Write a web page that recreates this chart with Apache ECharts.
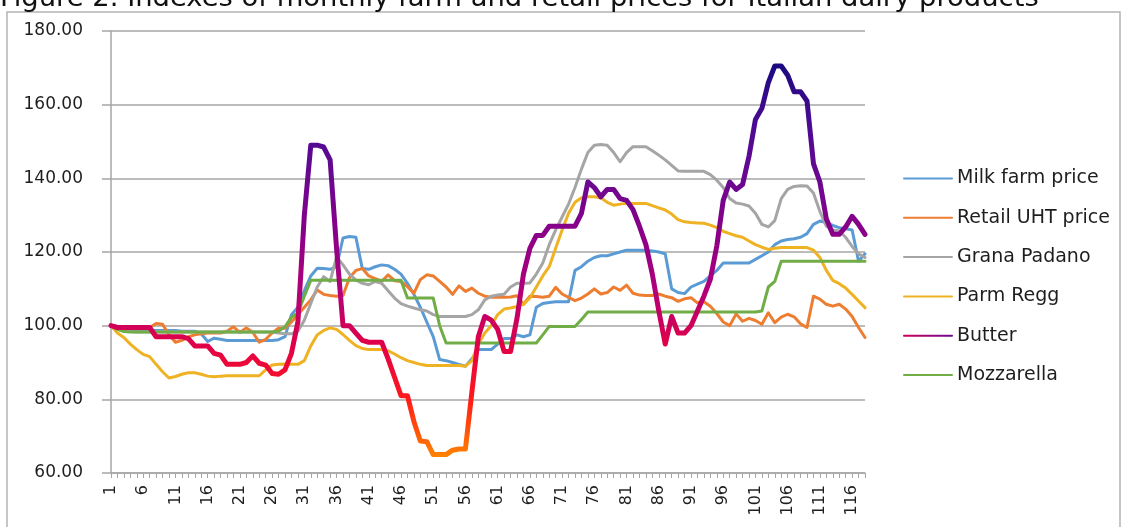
<!DOCTYPE html>
<html>
<head>
<meta charset="utf-8">
<script src="https://cdn.jsdelivr.net/npm/echarts@6/dist/echarts.min.js"></script>
<style>
html,body{margin:0;padding:0;background:#fff;}
#chart{width:1122px;height:527px;}
</style>
</head>
<body>
<div id="chart"></div>
<script>
// months 1..118
var months = [];
for (var m = 1; m <= 118; m++) { months.push(String(m)); }

var yTicks = [60, 80, 100, 120, 140, 160, 180];

var seriesNames = ['Milk farm price', 'Retail UHT price', 'Grana Padano', 'Parm Regg', 'Butter', 'Mozzarella'];

var milkFarm = [
	100, 99, 98.7, 98.7, 98.7, 98.7, 98.7, 98.7, 98.7, 98.7,
	98.7, 98.5, 98.5, 98.5, 97.8, 95.7, 96.6, 96.3, 96, 96,
	96, 96, 96, 96, 96, 96, 96.2, 97, 103, 105,
	109.5, 113.5, 115.6, 115.5, 115.3, 116, 123.8, 124.2, 124, 115.5,
	115.3, 116, 116.5, 116.3, 115.3, 114, 111.5, 108.5, 105, 101,
	97, 90.8, 90.5, 90, 89.5, 89, 91, 93.5, 93.5, 93.5,
	95, 96.5, 96.5, 97.5, 97, 97.5, 105, 106, 106.3, 106.5,
	106.5, 106.5, 115, 116, 117.5, 118.5, 119, 119, 119.5, 120,
	120.5, 120.5, 120.5, 120.5, 120.3, 120, 119.5, 110, 109, 108.7,
	110.5, 111.3, 112, 113.5, 115, 117, 117, 117, 117, 117,
	118, 119, 120, 122, 123, 123.4, 123.6, 124, 125, 127.5,
	128.4, 128, 127.2, 126.6, 126.3, 126, 117.5, 119.5
];

var retailUHT = [
	100, 99.5, 99.5, 99.5, 99.5, 99.5, 99.5, 100.6, 100.4, 97.5,
	95.5, 96, 97, 97.5, 97.8, 98, 98, 98, 98.5, 99.7,
	98.2, 99.4, 98.2, 95.5, 96.3, 98, 99.3, 99.3, 101, 103,
	105, 107, 109.7, 108.5, 108.2, 108, 108.2, 113, 115, 115.5,
	113.5, 112.8, 112, 113.8, 112.2, 112, 110.6, 108.8, 112.5, 113.8,
	113.5, 112, 110.5, 108.5, 110.8, 109.3, 110.2, 108.8, 108, 107.7,
	107.7, 107.7, 107.8, 108.1, 105.8, 108, 107.9, 107.7, 108, 110.4,
	108.6, 107.7, 106.8, 107.5, 108.6, 110, 108.6, 109, 110.5, 109.6,
	111, 108.8, 108.3, 108.2, 108.2, 108.6, 108, 107.6, 106.6, 107.3,
	107.6, 106.2, 106.5, 105.3, 103.3, 101, 100, 103.2, 101.2, 102,
	101.4, 100.4, 103.5, 100.8, 102.3, 103.1, 102.4, 100.5, 99.5, 108,
	107.2, 105.8, 105.3, 105.8, 104.5, 102.5, 99.5, 96.8
];

var granaPadano = [
	100, 99, 98.6, 98.4, 98.3, 98.3, 98.3, 98.3, 98.3, 98.3,
	98.3, 98.3, 98.3, 98.3, 98.3, 98.3, 98.3, 98.3, 98.3, 98.3,
	98.3, 98.3, 98.3, 98.3, 98.3, 98.3, 98, 97.8, 97.8, 98.5,
	101.5, 106, 110.5, 113.3, 112, 118.7, 116.5, 114, 112.4, 111.5,
	111.1, 112, 111.5, 109.5, 107.5, 106, 105.3, 104.8, 104.3, 104,
	103, 102.5, 102.5, 102.5, 102.5, 102.5, 103, 104.3, 107, 108,
	108.3, 108.5, 110.5, 111.5, 111.5, 111.6, 114, 117, 122, 126,
	129.5, 133, 137.5, 142.5, 147, 149, 149.2, 149, 147, 144.5,
	147, 148.6, 148.6, 148.6, 147.5, 146.3, 145, 143.5, 142, 141.9,
	141.9, 141.9, 141.9, 141, 139.5, 137.5, 134.5, 133.3, 133, 132.5,
	130.5, 127.5, 126.8, 128.5, 134.5, 137, 137.8, 138, 137.9, 136,
	131, 127, 126, 125.7, 124, 121.5, 119.5, 118.5
];

var parmRegg = [
	100, 98, 96.8, 95, 93.5, 92.2, 91.6, 89.5, 87.5, 85.8,
	86.2, 86.8, 87.2, 87.2, 86.8, 86.3, 86.1, 86.3, 86.4, 86.4,
	86.4, 86.4, 86.4, 86.4, 88, 89.3, 89.5, 89.6, 89.5, 89.5,
	90.5, 94.5, 97.5, 98.7, 99.4, 99, 97.6, 96, 94.6, 93.8,
	93.5, 93.5, 93.5, 93.2, 92.3, 91.3, 90.5, 90, 89.5, 89.2,
	89.2, 89.2, 89.2, 89.2, 89.2, 89, 90.5, 95, 98, 100,
	103, 104.5, 104.8, 105.2, 105.8, 107.5, 110.5, 113.5, 116, 121,
	126, 130.5, 133.5, 134.7, 135, 135, 134.7, 133.5, 132.7, 133,
	133.2, 133.2, 133.2, 133.2, 132.6, 132, 131.4, 130.3, 128.8, 128.2,
	128, 127.9, 127.8, 127.3, 126.6, 125.6, 125, 124.4, 124, 123,
	122, 121.3, 120.7, 121, 121.2, 121.2, 121.2, 121.2, 121.2, 120.5,
	118.5, 115, 112.3, 111.4, 110.2, 108.5, 106.7, 104.9
];

var butter = [
	100, 99.5, 99.5, 99.5, 99.5, 99.5, 99.5, 97, 97, 97,
	97, 97, 96.5, 94.5, 94.5, 94.5, 92.5, 92, 89.5, 89.5,
	89.5, 90, 91.8, 89.8, 89.3, 87, 86.8, 88, 92.5, 101,
	130, 149, 149, 148.5, 145, 121, 100, 100, 98, 96,
	95.5, 95.5, 95.5, 91, 86, 81, 81, 74, 68.7, 68.5,
	65, 65, 65, 66.2, 66.5, 66.5, 82, 97, 102.5, 101.5,
	99, 93, 93, 102, 114, 121, 124.5, 124.5, 127, 127,
	127, 127, 127, 130.5, 139, 137.5, 135, 137, 137, 134.5,
	134, 131.5, 127, 122, 114, 104, 95, 102.5, 98, 98,
	100, 104, 108, 112.6, 121.6, 134, 139, 137, 138.3, 146,
	156, 159, 166, 170.5, 170.5, 168, 163.5, 163.5, 161, 144,
	139, 129, 124.8, 124.8, 126.8, 129.7, 127.5, 124.8
];

var mozzarella = [
	100, 99, 98.4, 98.3, 98.3, 98.3, 98.3, 98.3, 98.3, 98.3,
	98.3, 98.3, 98.3, 98.3, 98.3, 98.3, 98.3, 98.3, 98.3, 98.3,
	98.3, 98.3, 98.3, 98.3, 98.3, 98.3, 98.5, 99.7, 102.3, 103.4,
	108, 112.3, 112.3, 112.3, 112.3, 112.3, 112.3, 112.3, 112.3, 112.3,
	112.3, 112.3, 112.3, 112.3, 112.3, 112.3, 107.5, 107.5, 107.5, 107.5,
	107.5, 100, 95.3, 95.3, 95.3, 95.3, 95.3, 95.3, 95.3, 95.3,
	95.3, 95.3, 95.3, 95.3, 95.3, 95.3, 95.3, 97.5, 99.8, 99.8,
	99.8, 99.8, 99.8, 101.7, 103.7, 103.7, 103.7, 103.7, 103.7, 103.7,
	103.7, 103.7, 103.7, 103.7, 103.7, 103.7, 103.7, 103.7, 103.7, 103.7,
	103.7, 103.7, 103.7, 103.7, 103.7, 103.7, 103.7, 103.7, 103.7, 103.7,
	103.7, 104, 110.5, 112, 117.5, 117.5, 117.5, 117.5, 117.5, 117.5,
	117.5, 117.5, 117.5, 117.5, 117.5, 117.5, 117.5, 117.5
];

var seriesData = [milkFarm, retailUHT, granaPadano, parmRegg, butter, mozzarella];
var seriesColors = ['#5b9bd5', '#ed7d31', '#a5a5a5', '#eeb222', '#8a0a7c', '#70ad47'];

var font = 'DejaVu Sans';
var gridGray = '#a6a6a6';

var chart = echarts.init(document.getElementById('chart'));

var series = [];
for (var s = 0; s < seriesNames.length; s++) {
	var isButter = seriesNames[s] == 'Butter';
	var ls = { width: isButter ? 5 : 3, join: 'round', cap: 'round' };
	var col = seriesColors[s];
	if (isButter) {
		//黄油线颜色交给visualMap，图例用渐变
		col = new echarts.graphic.LinearGradient(0, 0, 1, 0, [
			{ offset: 0, color: '#d0005a' },
			{ offset: 1, color: '#6a0a90' }
		]);
	} else {
		ls.color = seriesColors[s];
	}
	series.push({
		name: seriesNames[s],
		type: 'line',
		data: seriesData[s],
		symbol: 'none',
		color: col,
		lineStyle: ls,
		z: isButter ? 3 : 2
	});
}

var option = {
	animation: false,
	backgroundColor: '#fff',
	graphic: [
		{//外框
			type: 'rect',
			silent: true,
			z: -10,
			shape: { x: 7, y: 12, width: 1113, height: 540 },
			style: { fill: 'none', stroke: '#b4b4b4', lineWidth: 1.5 }
		},
		{//标题（上半部被裁掉）
			type: 'text',
			silent: true,
			x: 0,
			y: -15,
			style: {
				text: 'Figure 2. Indexes of monthly farm and retail prices for Italian dairy products',
				font: '27.4px "DejaVu Sans"',
				fill: '#111',
				verticalAlign: 'top'
			}
		}
	],
	legend: {
		orient: 'vertical',
		left: 898,
		top: 164,
		itemWidth: 48,
		itemHeight: 18,
		itemGap: 20.3,
		data: seriesNames,
		itemStyle: { opacity: 0 },
		textStyle: { fontFamily: font, fontSize: 19, color: '#1e1e1e' }
	},
	grid: { left: 111, right: 257, top: 31, bottom: 54, containLabel: false },
	xAxis: {
		type: 'category',
		boundaryGap: false,
		data: months,
		axisLine: { show: true, lineStyle: { color: gridGray, width: 1.5 } },
		axisTick: { show: true, interval: 0, length: 5, lineStyle: { color: gridGray, width: 1 } },
		axisLabel: {
			interval: 4,
			rotate: 90,
			margin: 12,
			fontFamily: font,
			fontSize: 16,
			color: '#1e1e1e'
		},
		splitLine: { show: false }
	},
	yAxis: {
		type: 'value',
		min: yTicks[0],
		max: yTicks[yTicks.length - 1],
		interval: yTicks[1] - yTicks[0],
		axisLine: { show: true, lineStyle: { color: gridGray, width: 1.5 } },
		axisTick: { show: true, length: 9, lineStyle: { color: gridGray, width: 1.5 } },
		axisLabel: {
			margin: 28,
			fontFamily: font,
			fontSize: 17,
			color: '#1e1e1e',
			formatter: function (v) { return v.toFixed(2); }
		},
		splitLine: { show: true, lineStyle: { color: gridGray, width: 1.5 } }
	},
	visualMap: {//黄油线按数值着色
		type: 'continuous',
		show: false,
		seriesIndex: 4,
		dimension: 1,
		min: 65,
		max: 170,
		inRange: { color: ['#ff7f00', '#ff1a1a', '#e00048', '#b0007a', '#8a0088', '#6a0890', '#4a0a92', '#1e0a80'] }
	},
	series: series
};

chart.setOption(option);
</script>
</body>
</html>
